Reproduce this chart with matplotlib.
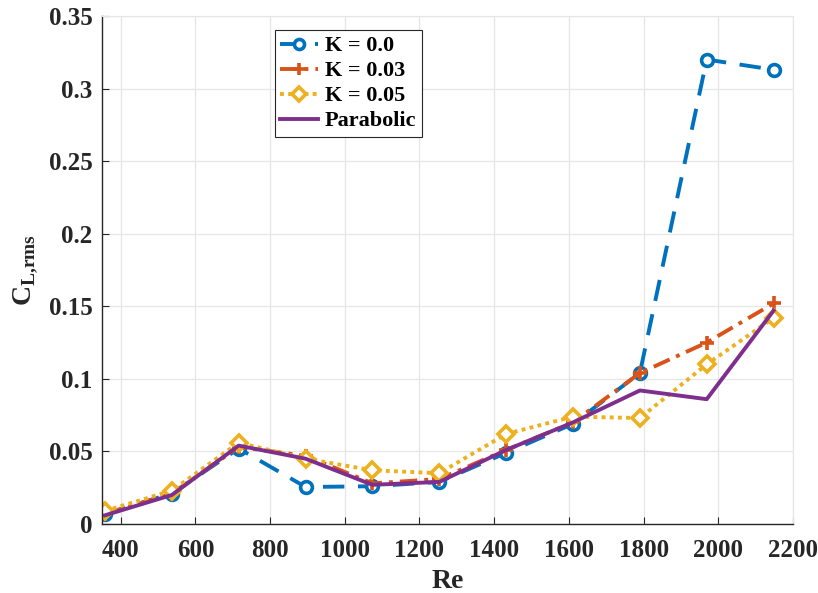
import matplotlib
matplotlib.use("Agg")
import matplotlib.pyplot as plt

re_vals = [358, 537, 716, 895, 1074, 1253, 1432, 1611, 1790, 1969, 2148]
k00 = [0.007, 0.021, 0.052, 0.0255, 0.026, 0.029, 0.049, 0.069, 0.104, 0.320, 0.313]
k003 = [0.007, 0.021, 0.053, 0.047, 0.028, 0.031, 0.051, 0.070, 0.104, 0.125, 0.152]
k005 = [0.009, 0.023, 0.056, 0.045, 0.037, 0.035, 0.062, 0.074, 0.073, 0.110, 0.142]
parab = [0.006, 0.020, 0.054, 0.045, 0.027, 0.029, 0.051, 0.070, 0.092, 0.086, 0.147]
labels = ["K = 0.0", "K = 0.03", "K = 0.05", "Parabolic"]
xticks = [400, 600, 800, 1000, 1200, 1400, 1600, 1800, 2000, 2200]
yticks = [0, 0.05, 0.1, 0.15, 0.2, 0.25, 0.3, 0.35]
ytick_labels = ["0", "0.05", "0.1", "0.15", "0.2", "0.25", "0.3", "0.35"]

plt.rcParams['font.family'] = ['Liberation Serif', 'DejaVu Serif']
plt.rcParams['font.weight'] = 'bold'
plt.rcParams['mathtext.fontset'] = 'custom'
plt.rcParams['mathtext.rm'] = 'Liberation Serif:bold'
plt.rcParams['mathtext.bf'] = 'Liberation Serif:bold'

fig = plt.figure(figsize=(8.18, 5.93), dpi=100)
ax = fig.add_axes([102/818, 1 - 524/593, (793-102)/818, (524-16)/593])

lw = 2.8
ax.plot(re_vals, k00, color='#0072BD', linestyle=(0, (5.5, 3.5)), linewidth=lw,
        marker='o', markersize=8.5, markerfacecolor='white', markeredgewidth=2.6, label=labels[0])
ax.plot(re_vals, k003, color='#D95319', linestyle=(0, (4.5, 1.8, 1, 1.8)), linewidth=lw,
        marker='+', markersize=10, markeredgewidth=2.6, label=labels[1])
ax.plot(re_vals, k005, color='#EDB120', linestyle=(0, (1, 1.1)), linewidth=lw,
        marker='D', markersize=8.5, markerfacecolor='white', markeredgewidth=2.6, label=labels[2])
ax.plot(re_vals, parab, color='#7E2F8E', linestyle='-', linewidth=lw, label=labels[3])

ax.set_xlim(350, 2200)
ax.set_ylim(0, 0.35)
ax.set_xticks(xticks)
ax.set_xticklabels([str(t) for t in xticks])
ax.set_yticks(yticks)
ax.set_yticklabels(ytick_labels)
ax.tick_params(direction='in', labelsize=18, length=5, color='#262626', labelcolor='#262626', pad=7)
ax.tick_params(axis='x', pad=11)
for lbl in ax.get_xticklabels() + ax.get_yticklabels():
    lbl.set_fontweight('bold')
ax.grid(True, color='#e6e6e6', linewidth=0.9)
ax.set_axisbelow(True)
for side in ['top', 'right']:
    ax.spines[side].set_color('#e6e6e6')
for side in ['left', 'bottom']:
    ax.spines[side].set_color('#262626')
    ax.spines[side].set_linewidth(1.0)

ax.set_xlabel('Re', fontsize=20, fontweight='bold', color='#262626', labelpad=5)
ax.set_ylabel(r'C$_{\mathbf{L{,}rms}}$', fontsize=20, fontweight='bold', color='#262626', labelpad=6)

leg = ax.legend(loc='upper left', bbox_to_anchor=(0.25, 0.972),
                prop={'weight': 'bold', 'size': 16, 'family': 'Liberation Serif'},
                fancybox=False, framealpha=1, edgecolor='#262626', handlelength=1.7,
                handletextpad=0.3, borderpad=0.25, labelspacing=0.2, borderaxespad=0,
                markerscale=0.85)
leg.get_frame().set_linewidth(0.8)

fig.savefig('out.png', dpi=100)
